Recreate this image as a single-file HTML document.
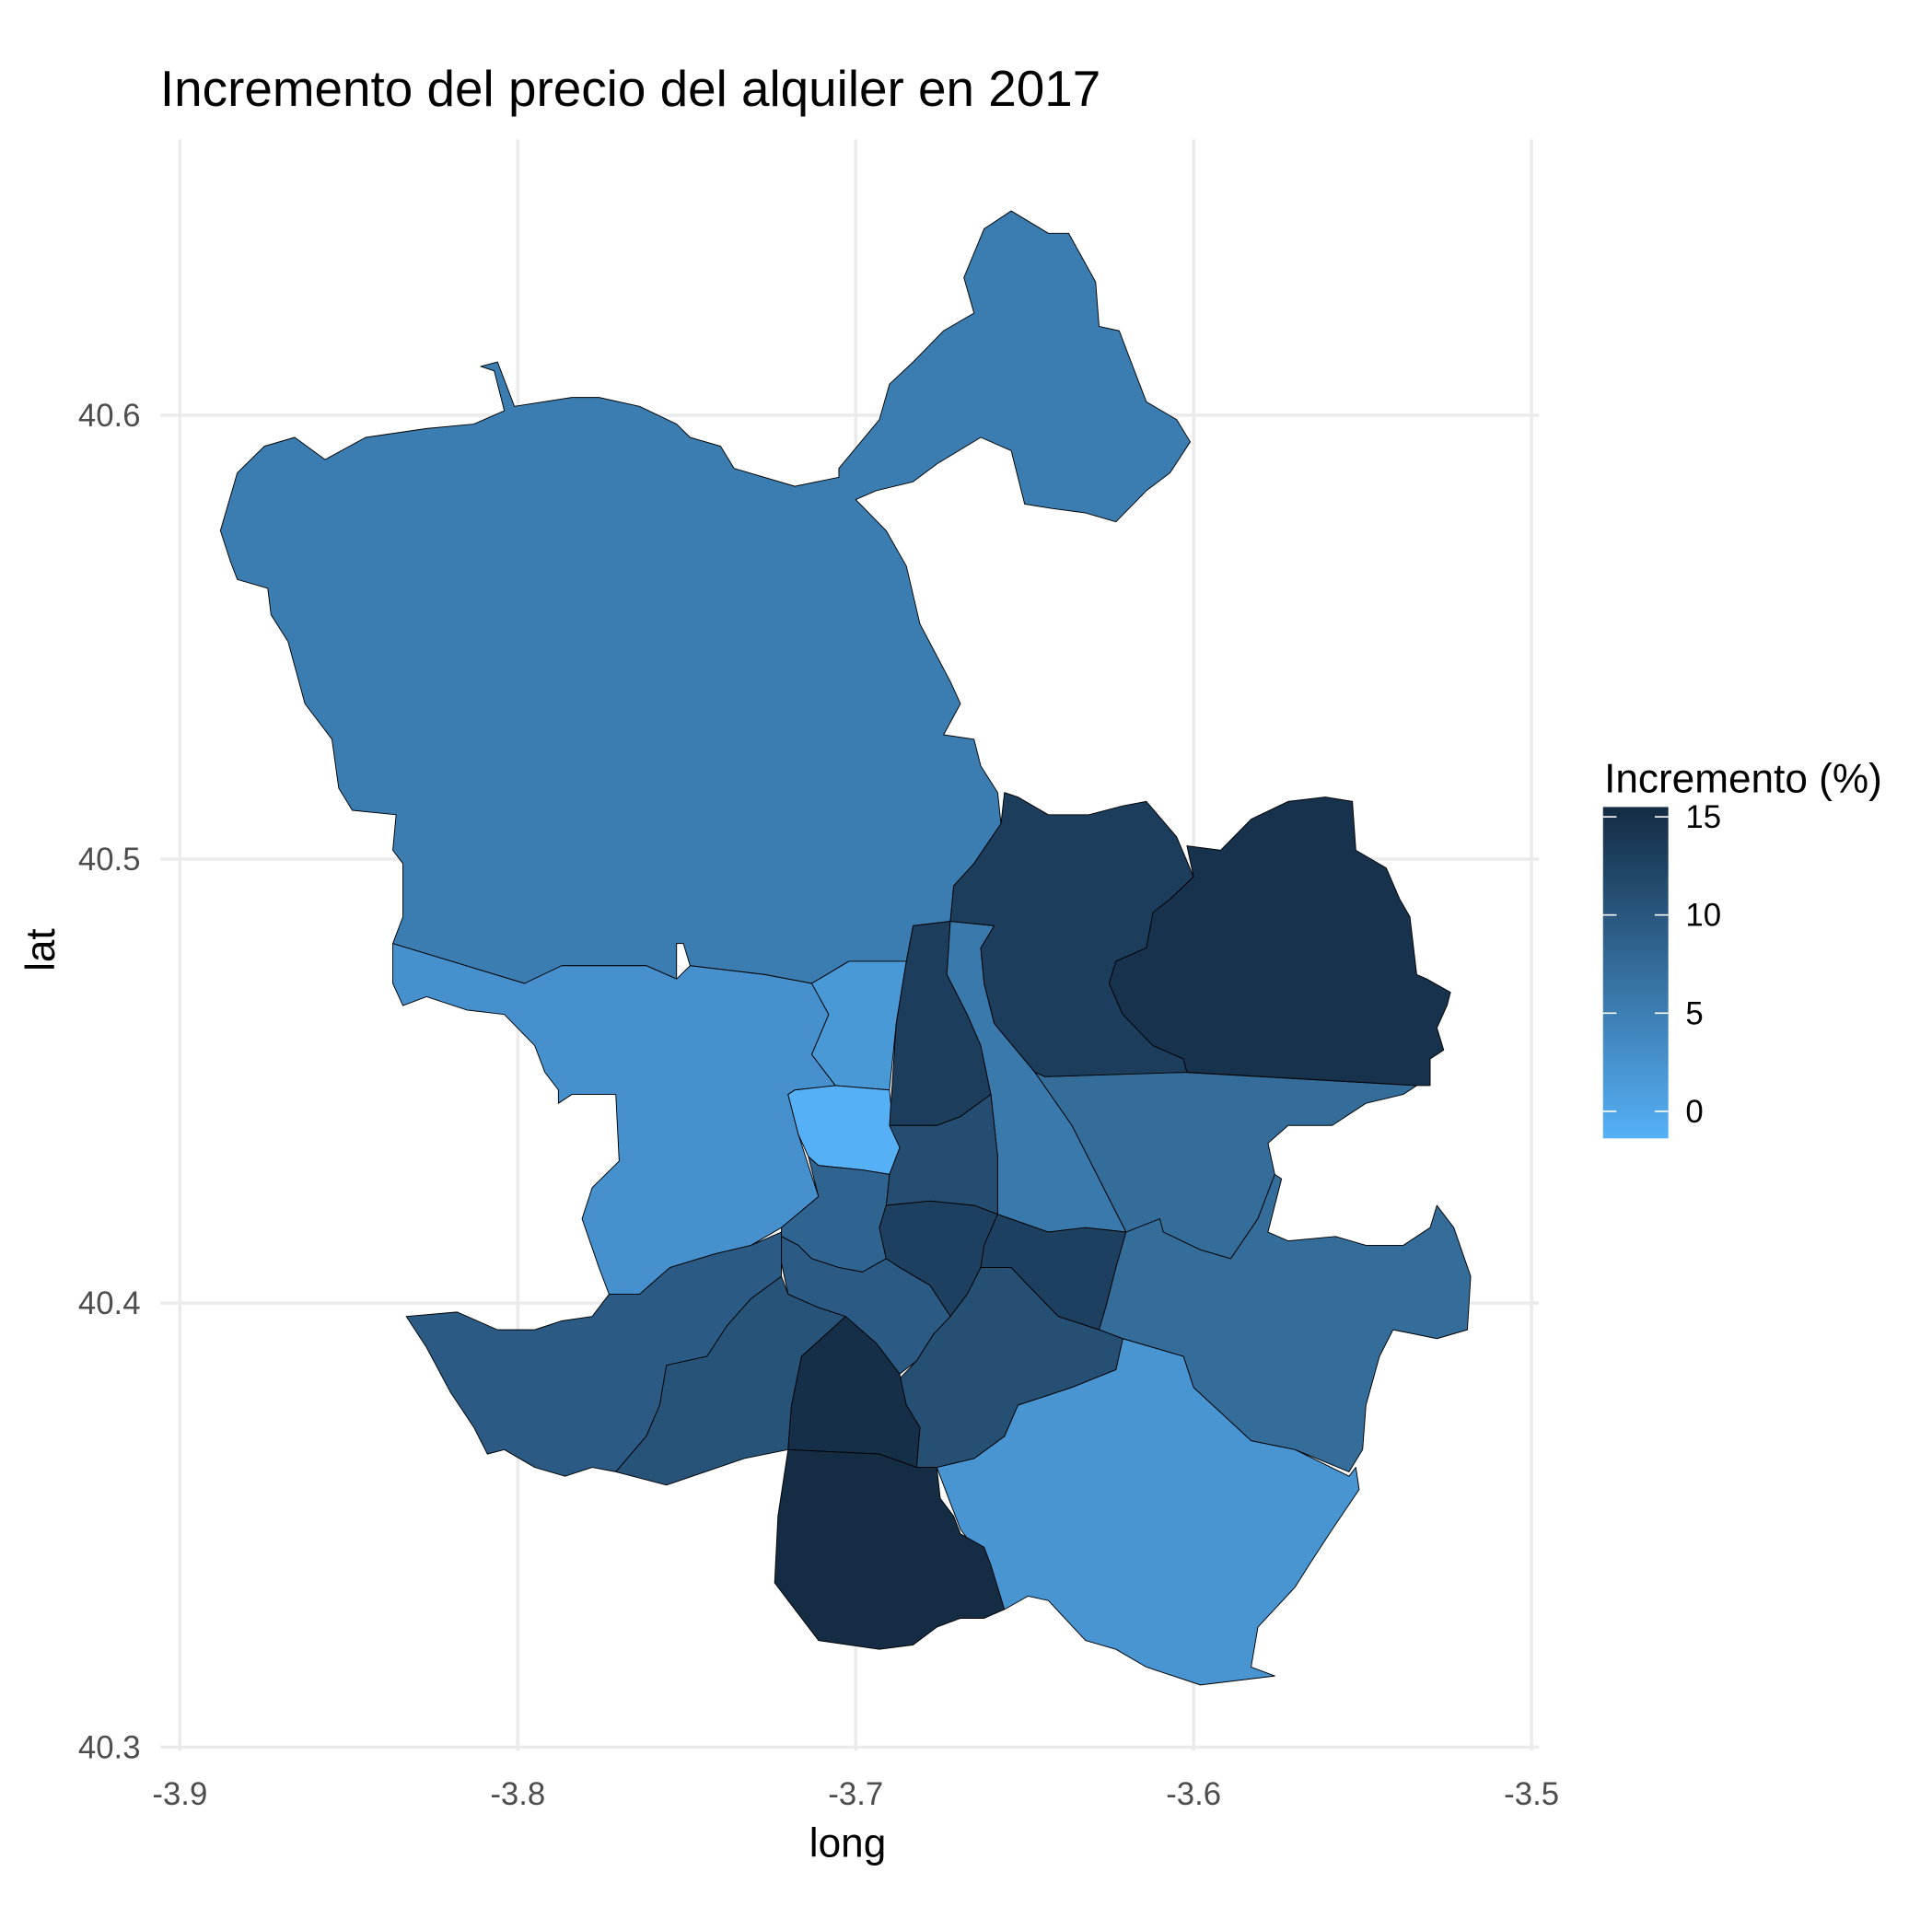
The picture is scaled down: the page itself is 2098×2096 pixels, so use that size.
<!DOCTYPE html>
<html><head><meta charset="utf-8">
<style>
html,body{margin:0;padding:0;background:#fff;}
svg{display:block;}
text{font-family:"Liberation Sans",Arial,sans-serif;}
</style></head>
<body>
<svg id="chart" width="2098" height="2096" viewBox="0 0 1568 1566.5" preserveAspectRatio="none" xmlns="http://www.w3.org/2000/svg">
<rect x="0" y="0" width="1568" height="1566.5" fill="#fff"/>
<g id="grid"></g>
<g id="map"></g>
<g id="axes"></g>
<text x="130" y="86" font-size="41" fill="#000">Incremento del precio del alquiler en 2017</text>
<text x="688" y="1507" font-size="33" fill="#000" text-anchor="middle">long</text>
<text x="0" y="0" font-size="33" fill="#000" text-anchor="middle" transform="translate(44,771) rotate(-90)">lat</text>
<g id="legend">
<defs><linearGradient id="lg" x1="0" y1="0" x2="0" y2="1"><stop offset="0" stop-color="#132B43"/><stop offset="1" stop-color="#56B1F7"/></linearGradient></defs>
<text x="1302" y="643" font-size="33" fill="#000">Incremento (%)</text>
<rect x="1301" y="655" width="53" height="269" fill="url(#lg)"/>
</g>
</svg>
<script>
const xTicks = [-3.9, -3.8, -3.7, -3.6, -3.5];
const yTicks = [40.3, 40.4, 40.5, 40.6];
const legendTicks = [0, 5, 10, 15];
const legendLimits = [-1.38, 15.5];
const districtNames = ["fuencarral","moncloa","tetuan-west","lightest","tetuan","chamartin","ciudad-lineal","hortaleza","barajas","chamberi","moncloa-south","centro","retiro","san-blas","villa-vallecas","puente-vallecas","arganzuela","latina","carabanchel","usera","villaverde"];
const districtValues = [5.2, 2.6, 1.6, -1.3, 13.2, 5.7, 7.3, 13.2, 14.6, 11.2, 8.3, 12.8, 12.8, 7.3, 2.1, 11.0, 9.4, 9.4, 10.5, 15.0, 15.3];
const districtShapes = [
[[-3.888,40.574],[-3.883,40.587],[-3.875,40.593],[-3.866,40.595],[-3.857,40.590],[-3.845,40.595],[-3.827,40.597],[-3.813,40.598],[-3.804,40.601],[-3.807,40.610],[-3.811,40.611],[-3.806,40.612],[-3.801,40.602],[-3.784,40.604],[-3.776,40.604],[-3.764,40.602],[-3.753,40.598],[-3.749,40.595],[-3.740,40.593],[-3.736,40.588],[-3.718,40.584],[-3.705,40.586],[-3.705,40.588],[-3.693,40.599],[-3.690,40.607],[-3.683,40.612],[-3.674,40.619],[-3.665,40.623],[-3.668,40.631],[-3.662,40.642],[-3.654,40.646],[-3.643,40.641],[-3.637,40.641],[-3.629,40.630],[-3.628,40.620],[-3.622,40.619],[-3.619,40.613],[-3.614,40.603],[-3.605,40.599],[-3.601,40.594],[-3.607,40.587],[-3.614,40.583],[-3.623,40.576],[-3.632,40.578],[-3.642,40.579],[-3.650,40.580],[-3.654,40.592],[-3.663,40.595],[-3.676,40.589],[-3.683,40.585],[-3.694,40.583],[-3.700,40.581],[-3.691,40.574],[-3.685,40.566],[-3.681,40.553],[-3.672,40.540],[-3.669,40.535],[-3.674,40.528],[-3.665,40.527],[-3.663,40.521],[-3.658,40.515],[-3.657,40.508],[-3.665,40.499],[-3.671,40.494],[-3.672,40.486],[-3.683,40.485],[-3.685,40.477],[-3.702,40.477],[-3.713,40.472],[-3.727,40.474],[-3.749,40.476],[-3.751,40.481],[-3.753,40.481],[-3.753,40.473],[-3.762,40.476],[-3.787,40.476],[-3.798,40.472],[-3.837,40.481],[-3.834,40.487],[-3.834,40.499],[-3.837,40.502],[-3.836,40.510],[-3.849,40.511],[-3.853,40.516],[-3.855,40.527],[-3.863,40.535],[-3.868,40.549],[-3.873,40.555],[-3.874,40.561],[-3.883,40.563],[-3.885,40.567]],
[[-3.837,40.481],[-3.837,40.472],[-3.834,40.467],[-3.827,40.469],[-3.815,40.466],[-3.804,40.465],[-3.795,40.458],[-3.792,40.452],[-3.788,40.448],[-3.788,40.445],[-3.784,40.447],[-3.771,40.447],[-3.770,40.432],[-3.778,40.426],[-3.781,40.419],[-3.776,40.408],[-3.773,40.402],[-3.764,40.402],[-3.755,40.408],[-3.742,40.411],[-3.731,40.413],[-3.722,40.417],[-3.711,40.424],[-3.714,40.431],[-3.717,40.438],[-3.720,40.447],[-3.718,40.448],[-3.706,40.449],[-3.713,40.456],[-3.708,40.465],[-3.713,40.472],[-3.727,40.474],[-3.749,40.476],[-3.753,40.473],[-3.762,40.476],[-3.787,40.476],[-3.798,40.472]],
[[-3.713,40.472],[-3.702,40.477],[-3.685,40.477],[-3.688,40.463],[-3.690,40.448],[-3.706,40.449],[-3.713,40.456],[-3.708,40.465]],
[[-3.718,40.448],[-3.706,40.449],[-3.690,40.448],[-3.689,40.440],[-3.687,40.435],[-3.690,40.429],[-3.698,40.430],[-3.711,40.431],[-3.714,40.433],[-3.717,40.438],[-3.720,40.447]],
[[-3.683,40.485],[-3.672,40.486],[-3.673,40.474],[-3.667,40.465],[-3.663,40.458],[-3.660,40.447],[-3.669,40.442],[-3.676,40.440],[-3.690,40.440],[-3.688,40.463],[-3.685,40.477]],
[[-3.672,40.486],[-3.659,40.485],[-3.663,40.480],[-3.662,40.472],[-3.659,40.463],[-3.647,40.452],[-3.636,40.440],[-3.620,40.416],[-3.632,40.417],[-3.643,40.416],[-3.658,40.420],[-3.658,40.433],[-3.660,40.447],[-3.663,40.458],[-3.667,40.465],[-3.673,40.474]],
[[-3.644,40.451],[-3.603,40.452],[-3.534,40.449],[-3.538,40.447],[-3.549,40.445],[-3.559,40.440],[-3.572,40.440],[-3.578,40.436],[-3.576,40.429],[-3.581,40.419],[-3.589,40.410],[-3.598,40.412],[-3.609,40.416],[-3.620,40.416],[-3.636,40.440],[-3.647,40.452]],
[[-3.672,40.486],[-3.671,40.494],[-3.665,40.499],[-3.657,40.508],[-3.656,40.515],[-3.652,40.514],[-3.643,40.510],[-3.631,40.510],[-3.621,40.512],[-3.614,40.513],[-3.605,40.505],[-3.600,40.496],[-3.607,40.491],[-3.612,40.488],[-3.614,40.480],[-3.623,40.477],[-3.625,40.472],[-3.621,40.465],[-3.612,40.458],[-3.603,40.455],[-3.602,40.452],[-3.644,40.451],[-3.647,40.452],[-3.659,40.463],[-3.662,40.472],[-3.663,40.480],[-3.659,40.485]],
[[-3.600,40.496],[-3.602,40.503],[-3.592,40.502],[-3.583,40.509],[-3.572,40.513],[-3.561,40.514],[-3.553,40.513],[-3.552,40.502],[-3.543,40.498],[-3.539,40.491],[-3.536,40.487],[-3.534,40.474],[-3.531,40.473],[-3.524,40.470],[-3.525,40.467],[-3.528,40.462],[-3.526,40.457],[-3.530,40.455],[-3.530,40.449],[-3.534,40.449],[-3.602,40.452],[-3.603,40.455],[-3.612,40.458],[-3.621,40.465],[-3.625,40.472],[-3.623,40.477],[-3.614,40.480],[-3.612,40.488],[-3.607,40.491]],
[[-3.690,40.440],[-3.676,40.440],[-3.669,40.442],[-3.660,40.447],[-3.658,40.433],[-3.658,40.420],[-3.665,40.422],[-3.678,40.423],[-3.691,40.422],[-3.690,40.429],[-3.687,40.435]],
[[-3.714,40.433],[-3.711,40.431],[-3.698,40.430],[-3.690,40.429],[-3.691,40.422],[-3.693,40.417],[-3.691,40.410],[-3.698,40.407],[-3.705,40.408],[-3.713,40.410],[-3.717,40.413],[-3.722,40.415],[-3.722,40.417],[-3.711,40.424]],
[[-3.691,40.422],[-3.678,40.423],[-3.665,40.422],[-3.658,40.420],[-3.662,40.413],[-3.663,40.408],[-3.667,40.402],[-3.672,40.397],[-3.678,40.404],[-3.687,40.408],[-3.691,40.410],[-3.693,40.417]],
[[-3.658,40.420],[-3.643,40.416],[-3.632,40.417],[-3.620,40.416],[-3.623,40.408],[-3.626,40.399],[-3.628,40.394],[-3.640,40.397],[-3.649,40.404],[-3.654,40.408],[-3.663,40.408],[-3.662,40.413]],
[[-3.620,40.416],[-3.610,40.419],[-3.609,40.416],[-3.598,40.412],[-3.589,40.410],[-3.581,40.419],[-3.576,40.429],[-3.574,40.428],[-3.578,40.416],[-3.572,40.414],[-3.558,40.415],[-3.549,40.413],[-3.538,40.413],[-3.530,40.417],[-3.528,40.422],[-3.523,40.417],[-3.518,40.406],[-3.519,40.394],[-3.528,40.392],[-3.541,40.394],[-3.545,40.388],[-3.549,40.377],[-3.550,40.367],[-3.554,40.362],[-3.570,40.367],[-3.583,40.369],[-3.600,40.381],[-3.603,40.388],[-3.621,40.392],[-3.628,40.394],[-3.626,40.399],[-3.623,40.408]],
[[-3.621,40.392],[-3.603,40.388],[-3.600,40.381],[-3.583,40.369],[-3.570,40.367],[-3.554,40.361],[-3.552,40.363],[-3.551,40.358],[-3.559,40.349],[-3.565,40.342],[-3.570,40.336],[-3.581,40.327],[-3.583,40.318],[-3.576,40.316],[-3.598,40.314],[-3.614,40.318],[-3.623,40.322],[-3.632,40.324],[-3.643,40.333],[-3.649,40.334],[-3.656,40.331],[-3.662,40.341],[-3.665,40.345],[-3.669,40.349],[-3.676,40.363],[-3.665,40.365],[-3.656,40.370],[-3.652,40.377],[-3.636,40.381],[-3.623,40.385]],
[[-3.672,40.397],[-3.667,40.402],[-3.663,40.408],[-3.654,40.408],[-3.649,40.404],[-3.640,40.397],[-3.628,40.394],[-3.621,40.392],[-3.623,40.385],[-3.636,40.381],[-3.652,40.377],[-3.656,40.370],[-3.665,40.365],[-3.676,40.363],[-3.682,40.363],[-3.681,40.372],[-3.685,40.377],[-3.687,40.383],[-3.682,40.387],[-3.677,40.393]],
[[-3.722,40.415],[-3.717,40.413],[-3.713,40.410],[-3.705,40.408],[-3.698,40.407],[-3.691,40.410],[-3.687,40.408],[-3.678,40.404],[-3.672,40.397],[-3.677,40.393],[-3.682,40.387],[-3.687,40.384],[-3.694,40.391],[-3.703,40.397],[-3.711,40.399],[-3.720,40.402],[-3.722,40.409]],
[[-3.833,40.397],[-3.818,40.398],[-3.806,40.394],[-3.795,40.394],[-3.787,40.396],[-3.778,40.397],[-3.773,40.402],[-3.764,40.402],[-3.755,40.408],[-3.742,40.411],[-3.731,40.413],[-3.722,40.416],[-3.722,40.409],[-3.722,40.406],[-3.731,40.401],[-3.738,40.395],[-3.744,40.388],[-3.756,40.386],[-3.758,40.377],[-3.762,40.370],[-3.771,40.362],[-3.778,40.363],[-3.786,40.361],[-3.795,40.363],[-3.804,40.367],[-3.809,40.366],[-3.813,40.372],[-3.820,40.380],[-3.827,40.390]],
[[-3.722,40.406],[-3.720,40.402],[-3.711,40.399],[-3.703,40.397],[-3.716,40.388],[-3.719,40.377],[-3.720,40.367],[-3.733,40.365],[-3.756,40.359],[-3.771,40.362],[-3.762,40.370],[-3.758,40.377],[-3.756,40.386],[-3.744,40.388],[-3.738,40.395],[-3.731,40.401]],
[[-3.703,40.397],[-3.694,40.391],[-3.687,40.384],[-3.685,40.377],[-3.681,40.372],[-3.682,40.363],[-3.693,40.366],[-3.720,40.367],[-3.719,40.377],[-3.716,40.388]],
[[-3.720,40.367],[-3.693,40.366],[-3.682,40.363],[-3.676,40.363],[-3.675,40.356],[-3.671,40.352],[-3.669,40.348],[-3.662,40.345],[-3.660,40.341],[-3.656,40.331],[-3.662,40.329],[-3.669,40.329],[-3.676,40.327],[-3.683,40.323],[-3.693,40.322],[-3.711,40.324],[-3.718,40.331],[-3.724,40.337],[-3.723,40.352]]
];

const NS = "http://www.w3.org/2000/svg";
const X0 = 146, X1 = 1243, Y0 = 1418, Y1 = 337;
function xScale(lon){ return X0 + (lon - (-3.9)) / 0.4 * (X1 - X0); }
function yScale(lat){ return Y0 - (lat - 40.3) / 0.3 * (Y0 - Y1); }
const legTop = 655, legBot = 924;
function legendY(v){ return legBot - (v - legendLimits[0]) / (legendLimits[1] - legendLimits[0]) * (legBot - legTop); }
const lowC = [86,177,247], highC = [19,43,67];
function fillColor(v){
  let t = (v - legendLimits[0]) / (legendLimits[1] - legendLimits[0]);
  t = Math.max(0, Math.min(1, t));
  const c = lowC.map((l,i)=>Math.round(l + (highC[i]-l)*t));
  return "rgb(" + c.join(",") + ")";
}
function mk(tag, attrs){ const e = document.createElementNS(NS, tag); for (const k in attrs) e.setAttribute(k, attrs[k]); return e; }

const grid = document.getElementById("grid");
const axes = document.getElementById("axes");
xTicks.forEach(v => {
  const x = xScale(v);
  const l = mk("line", {x1:x, x2:x, y1:113, y2:1421, stroke:"#EBEBEB", "stroke-width":2.6});
  
  
  grid.appendChild(l);
  const t = mk("text", {x:x, y:1465, "font-size":26, fill:"#4D4D4D", "text-anchor":"middle"});
  t.textContent = String(v);
  
  
  axes.appendChild(t);
});
yTicks.forEach(v => {
  const y = yScale(v);
  const l = mk("line", {x1:130, x2:1249, y1:y, y2:y, stroke:"#EBEBEB", "stroke-width":2.6});
  
  
  grid.appendChild(l);
  const t = mk("text", {x:114, y:y+9, "font-size":26, fill:"#4D4D4D", "text-anchor":"end"});
  t.textContent = v.toFixed(1);
  
  
  axes.appendChild(t);
});

const map = document.getElementById("map");
districtShapes.forEach((shape, i) => {
  const pts = shape.map(p => xScale(p[0]).toFixed(1) + "," + yScale(p[1]).toFixed(1)).join(" ");
  const poly = mk("polygon", {points:pts, fill:fillColor(districtValues[i]), stroke:"#000", "stroke-width":0.7, "stroke-linejoin":"round"});
  
  
  map.appendChild(poly);
});

const legend = document.getElementById("legend");
legendTicks.forEach(v => {
  const y = legendY(v);
  const a = mk("line", {x1:1301, x2:1312, y1:y, y2:y, stroke:"#fff", "stroke-width":1.2});
  
  
  legend.appendChild(a);
  const b = mk("line", {x1:1343, x2:1354, y1:y, y2:y, stroke:"#fff", "stroke-width":1.2});
  
  
  legend.appendChild(b);
  const t = mk("text", {x:1368, y:y+9, "font-size":26, fill:"#000"});
  t.textContent = String(v);
  
  
  legend.appendChild(t);
});
</script>
</body></html>
